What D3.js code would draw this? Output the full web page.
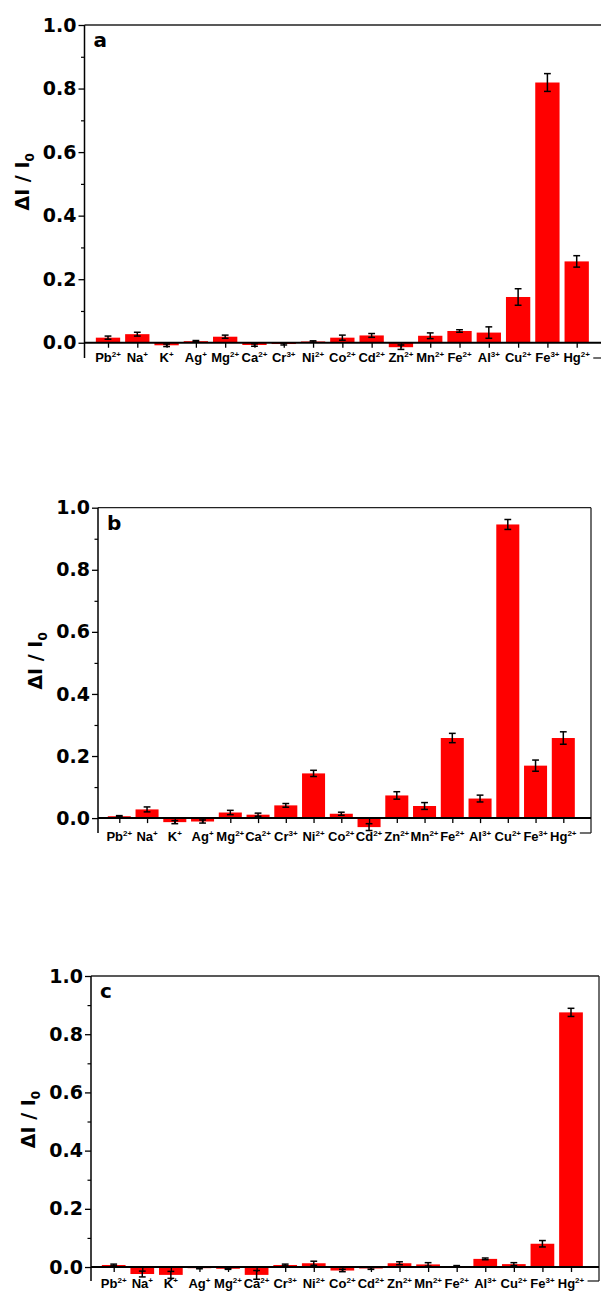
<!DOCTYPE html>
<html>
<head>
<meta charset="utf-8">
<script src="https://cdn.jsdelivr.net/npm/d3@7"></script>
<style>
  html, body { margin: 0; padding: 0; background: #fff; }
  svg { display: block; }
  text { font-family: "DejaVu Sans", "Liberation Sans", sans-serif; font-weight: bold; fill: #000; }
  text.xl { font-family: "Liberation Sans", Arial, sans-serif; }
</style>
</head>
<body>
<svg id="chart" width="601" height="1291"></svg>
<script>
// ---------- data ----------
const elements = ["Pb","Na","K","Ag","Mg","Ca","Cr","Ni","Co","Cd","Zn","Mn","Fe","Al","Cu","Fe","Hg"];
const charges  = ["2+","+","+","+","2+","2+","3+","2+","2+","2+","2+","2+","2+","3+","2+","3+","2+"];
const ions = elements.map((e, i) => e + charges[i]);

const valuesA = [0.016,0.027,-0.008,0.005,0.019,-0.007,-0.004,0.004,0.016,0.023,-0.014,0.022,0.037,0.032,0.144,0.819,0.256];
const errorsA = [0.005,0.006,0.004,0.002,0.005,0.004,0.003,0.002,0.008,0.006,0.007,0.009,0.004,0.018,0.026,0.028,0.018];

const valuesB = [0.006,0.028,-0.013,-0.011,0.018,0.011,0.041,0.144,0.014,-0.029,0.073,0.039,0.258,0.063,0.946,0.169,0.258];
const errorsB = [0.002,0.008,0.005,0.005,0.007,0.005,0.006,0.010,0.005,0.011,0.012,0.011,0.015,0.011,0.016,0.018,0.020];

const valuesC = [0.007,-0.024,-0.027,-0.004,-0.006,-0.027,0.007,0.013,-0.012,-0.005,0.013,0.009,0.003,0.028,0.010,0.080,0.875];
const errorsC = [0.003,0.010,0.012,0.002,0.002,0.015,0.003,0.007,0.004,0.003,0.005,0.006,0.002,0.003,0.005,0.011,0.014];

const yMajorTicks = [0.0,0.2,0.4,0.6,0.8,1.0];
const yMinorTicks = [0.1,0.3,0.5,0.7,0.9];
const yDomain = [-0.048, 1.0];
const panelLetters = ["a","b","c"];

// ---------- layout ----------
const panels = [
  {letter: panelLetters[0], values: valuesA, errors: errorsA, left: 84.5, right: 606, top: 25,  bottom: 358, first: 108,   last: 576.7, labelDy: 19},
  {letter: panelLetters[1], values: valuesB, errors: errorsB, left: 98,   right: 591, top: 507.7, bottom: 833, first: 119.3, last: 563.3, labelDy: 23},
  {letter: panelLetters[2], values: valuesC, errors: errorsC, left: 91,   right: 599, top: 976, bottom: 1281, first: 113.7, last: 571,   labelDy: 21}
];

const svg = d3.select("#chart");

panels.forEach(p => {
  const g = svg.append("g");
  const y = d3.scaleLinear().domain(yDomain).range([p.bottom, p.top]);
  const x = d3.scalePoint().domain(ions).range([p.first, p.last]);
  const step = x.step();
  const bw = step * 0.83;
  const y0 = y(0);
  const data = ions.map((k, i) => ({k, el: elements[i], ch: charges[i], v: p.values[i], e: p.errors[i]}));

  // bars
  g.selectAll("rect.bar").data(data).join("rect")
    .attr("class", "bar")
    .attr("x", d => x(d.k) - bw / 2)
    .attr("width", bw)
    .attr("y", d => Math.min(y(d.v), y0))
    .attr("height", d => Math.abs(y(d.v) - y0))
    .attr("fill", "#ff0000");

  // error bars
  const cap = 3.4;
  const eb = g.selectAll("g.err").data(data).join("g").attr("class", "err")
    .attr("stroke", "#000").attr("stroke-width", 1.5);
  eb.append("line").attr("x1", d => x(d.k)).attr("x2", d => x(d.k))
    .attr("y1", d => y(d.v - d.e)).attr("y2", d => y(d.v + d.e));
  eb.append("line").attr("x1", d => x(d.k) - cap).attr("x2", d => x(d.k) + cap)
    .attr("y1", d => y(d.v + d.e)).attr("y2", d => y(d.v + d.e));
  eb.append("line").attr("x1", d => x(d.k) - cap).attr("x2", d => x(d.k) + cap)
    .attr("y1", d => y(d.v - d.e)).attr("y2", d => y(d.v - d.e));

  // frame: top, right
  g.append("line").attr("x1", p.left).attr("x2", p.right).attr("y1", p.top).attr("y2", p.top)
    .attr("stroke", "#222").attr("stroke-width", 1.3);
  g.append("line").attr("x1", p.right).attr("x2", p.right).attr("y1", p.top).attr("y2", p.bottom)
    .attr("stroke", "#222").attr("stroke-width", 1.3);

  // y axis
  const yAxis = d3.axisLeft(y).tickValues(yMajorTicks).tickFormat(d3.format(".1f")).tickSize(6).tickPadding(2);
  const ya = g.append("g").attr("transform", `translate(${p.left},0)`).call(yAxis);
  ya.select(".domain").remove();
  ya.selectAll(".tick line").attr("stroke", "#000").attr("stroke-width", 1.3);
  ya.selectAll(".tick text").style("font-size", "19px").style("font-family", "DejaVu Sans").style("font-weight", "bold");
  g.append("line").attr("x1", p.left).attr("x2", p.left).attr("y1", p.top).attr("y2", p.bottom)
    .attr("stroke", "#000").attr("stroke-width", 1.5);
  const ym = d3.axisLeft(y).tickValues(yMinorTicks).tickFormat("").tickSize(3.5);
  const ymg = g.append("g").attr("transform", `translate(${p.left},0)`).call(ym);
  ymg.select(".domain").remove();
  ymg.selectAll(".tick line").attr("stroke", "#000").attr("stroke-width", 1.2);

  // x axis at zero
  const xAxis = d3.axisBottom(x).tickSize(5).tickFormat("");
  const xa = g.append("g").attr("transform", `translate(0,${y0})`).call(xAxis);
  xa.select(".domain").remove();
  xa.selectAll(".tick line").attr("stroke", "#000").attr("stroke-width", 1.3);
  g.append("line").attr("x1", p.left).attr("x2", p.right).attr("y1", y0).attr("y2", y0)
    .attr("stroke", "#000").attr("stroke-width", 2);

  // x labels
  let maxRight = 0;
  data.forEach(d => {
    const t = g.append("text").attr("class", "xl").attr("x", x(d.k)).attr("y", y0 + p.labelDy)
      .attr("text-anchor", "middle").style("font-size", "13px");
    t.append("tspan").text(d.el);
    t.append("tspan").attr("dy", -5).style("font-size", "8px").text(d.ch);
    const bb = t.node().getBBox();
    maxRight = Math.max(maxRight, bb.x + bb.width);
  });

  // short bottom frame segment at right
  g.append("line").attr("x1", maxRight + 3).attr("x2", p.right).attr("y1", p.bottom).attr("y2", p.bottom)
    .attr("stroke", "#222").attr("stroke-width", 1.3);

  // y label
  const ymid = (p.top + y0) / 2 - 2;
  const yl = g.append("text").attr("transform", `translate(${p.left - 56},${ymid}) rotate(-90)`)
    .attr("text-anchor", "middle").style("font-size", "19px");
  yl.append("tspan").text("ΔI / I");
  yl.append("tspan").attr("dy", 5).style("font-size", "12px").text("0");

  // panel letter
  g.append("text").attr("x", p.left + 9).attr("y", p.top + 22).style("font-size", "20px").text(p.letter);
});
</script>
</body>
</html>
